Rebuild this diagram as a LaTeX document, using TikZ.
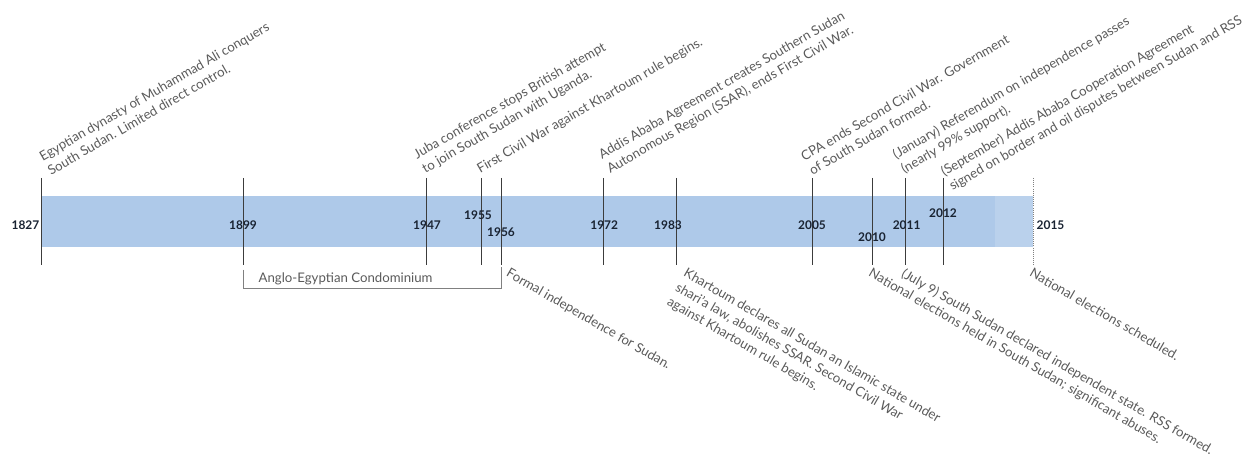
\documentclass[tikz,border=0pt]{standalone}
\usepackage{fontspec}
\setmainfont{Lato}
\usetikzlibrary{positioning, calc}

\definecolor{barblue}{RGB}{174,201,233}
\definecolor{barlight}{RGB}{186,209,236}
\definecolor{tickgray}{RGB}{60,60,60}
\definecolor{notegray}{RGB}{90,90,90}
\definecolor{yeardark}{RGB}{25,35,50}

\begin{document}
\begin{tikzpicture}[
  bar/.style      = {fill=barblue, draw=none, minimum height=1.275cm, inner sep=0pt, outer sep=0pt},
  tick/.style     = {draw=tickgray, line width=0.6pt},
  year/.style     = {font=\bfseries\fontsize{8.5}{10}\selectfont, text=yeardark, inner sep=1pt},
  note/.style     = {font=\fontsize{9.4}{11.8}\selectfont, text=notegray, align=left, inner sep=1pt},
  noteup/.style   = {note, rotate=30,  anchor=south west},
  notedown/.style = {note, rotate=-30, anchor=north west},
]
  \useasboundingbox (-1.025, -5.84) rectangle (30.3, 5.54);

  % ---- Bar: solid up to 2012, lighter stretch to 2015 ----
  \node[bar, minimum width=23.85cm, anchor=west]      (bar)    at (0, 0) {};
  \node[bar, fill=barlight, minimum width=0.95cm, right=0pt of bar] (barend) {};

  % ---- Tick ends (top above the bar, bottom below it) ----
  \node[coordinate] (t1827) at (0.02,   1.09) {};  \node[coordinate] (b1827) at (0.02,   -1.09) {};
  \node[coordinate] (t1899) at (5.05,   1.09) {};  \node[coordinate] (b1899) at (5.05,   -1.09) {};
  \node[coordinate] (t1947) at (9.625,  1.09) {};  \node[coordinate] (b1947) at (9.625,  -1.09) {};
  \node[coordinate] (t1955) at (11.0,   1.09) {};  \node[coordinate] (b1955) at (11.0,   -1.09) {};
  \node[coordinate] (t1956) at (11.5,   1.09) {};  \node[coordinate] (b1956) at (11.5,   -1.09) {};
  \node[coordinate] (t1972) at (14.05,  1.09) {};  \node[coordinate] (b1972) at (14.05,  -1.09) {};
  \node[coordinate] (t1983) at (15.875, 1.09) {};  \node[coordinate] (b1983) at (15.875, -1.09) {};
  \node[coordinate] (t2005) at (19.275, 1.09) {};  \node[coordinate] (b2005) at (19.275, -1.09) {};
  \node[coordinate] (t2010) at (20.775, 1.09) {};  \node[coordinate] (b2010) at (20.775, -1.09) {};
  \node[coordinate] (t2011) at (21.6,   1.09) {};  \node[coordinate] (b2011) at (21.6,   -1.09) {};
  \node[coordinate] (t2012) at (22.55,  1.09) {};  \node[coordinate] (b2012) at (22.55,  -1.09) {};
  \node[coordinate] (t2015) at (24.8,   1.09) {};  \node[coordinate] (b2015) at (24.8,   -1.09) {};

  \draw[tick] (t1827) -- (b1827)  (t1899) -- (b1899)  (t1947) -- (b1947)  (t1955) -- (b1955);
  \draw[tick] (t1956) -- (b1956)  (t1972) -- (b1972)  (t1983) -- (b1983)  (t2005) -- (b2005);
  \draw[tick] (t2010) -- (b2010)  (t2011) -- (b2011)  (t2012) -- (b2012);
  \draw[tick, draw=gray, line width=0.5pt, densely dotted] (t2015) -- (b2015);

  % ---- Year labels on the bar ----
  \node[year, anchor=east] (y1827) at (0, -0.09)      {1827};
  \node[year]              (y1899) at (5.05, -0.09)   {1899};
  \node[year]              (y1947) at (9.65, -0.09)   {1947};
  \node[year]              (y1955) at (10.925, 0.16)  {1955};
  \node[year]              (y1956) at (11.5, -0.26)   {1956};
  \node[year]              (y1972) at (14.08, -0.09)  {1972};
  \node[year]              (y1983) at (15.675, -0.09) {1983};
  \node[year]              (y2005) at (19.275, -0.09) {2005};
  \node[year]              (y2010) at (20.775, -0.39) {2010};
  \node[year]              (y2011) at (21.64, -0.09)  {2011};
  \node[year]              (y2012) at (22.55, 0.21)   {2012};
  \node[year, anchor=west] (y2015) at (24.85, -0.09)  {2015};

  % ---- Condominium bracket under 1899--1956 ----
  \node[coordinate] (c1) at (5.05, -1.2)  {};
  \node[coordinate] (c2) at (11.5, -1.14) {};
  \draw[draw=gray, line width=0.5pt] (c1) |- (5.05, -1.68) -| (c2);
  \node[note, anchor=west] (condo) at (5.4, -1.44) {Anglo-Egyptian Condominium};

  % ---- Events above the bar ----
  \node[noteup] (n1827) at ($(t1827)+(0.22,0)$) {Egyptian dynasty of Muhammad Ali conquers\\South Sudan. Limited direct control.};
  \node[noteup] (n1947) at (t1947) {Juba conference stops British attempt\\to join South Sudan with Uganda.};
  \node[noteup] (n1955) at (t1955) {First Civil War against Khartoum rule begins.};
  \node[noteup] (n1972) at ($(t1972)+(0.2,0)$) {Addis Ababa Agreement creates Southern Sudan\\Autonomous Region (SSAR), ends First Civil War.};
  \node[noteup] (n2005) at (t2005) {CPA ends Second Civil War. Government\\of South Sudan formed.};
  \node[noteup] (n2011) at (t2011) {(January) Referendum on independence passes\\(nearly 99\% support).};
  % first line starts at the tick, second line hangs into the bar
  \node[noteup, anchor=west] (n2012) at ($(t2012)+(0.05,-0.08)$) {(September) Addis Ababa Cooperation Agreement\\signed on border and oil disputes between Sudan and RSS};

  % ---- Events below the bar ----
  \node[notedown] (n1956) at ($(b1956)+(0.22,0)$) {Formal independence for Sudan.};
  \node[notedown] (n1983) at ($(b1983)+(0.28,0)$) {Khartoum declares all Sudan an Islamic state under\\shari'a law, abolishes SSAR. Second Civil War\\against Khartoum rule begins.};
  \node[notedown] (n2010) at (b2010) {National elections held in South Sudan; significant abuses.};
  \node[notedown] (n2011b) at (b2011) {(July 9) South Sudan declared independent state. RSS formed.};
  \node[notedown] (n2015) at (b2015) {National elections scheduled.};
\end{tikzpicture}
\end{document}
